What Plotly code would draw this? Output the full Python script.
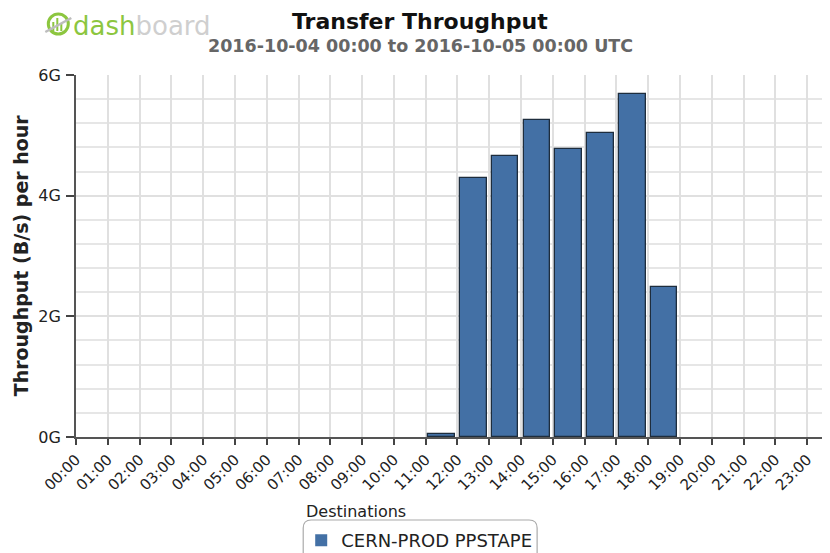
import plotly.graph_objects as go

hours = list(range(24))
hour_labels = [f"{h:02d}:00" for h in hours]
throughput_g = [0, 0, 0, 0, 0, 0, 0, 0, 0, 0, 0,
                0.05, 4.29, 4.66, 5.26, 4.78, 5.04, 5.69, 2.48,
                0, 0, 0, 0, 0]
y_tick_vals = [0, 2, 4, 6]
y_tick_text = ["0G", "2G", "4G", "6G"]
series_name = "CERN-PROD PPSTAPE"

OFF = 8  # browser body margin
W, H = 830, 553
L = 75.7 - OFF
T = 75 - OFF
B = H - (437 - OFF)
R = 0
pw = W - L - R
ph = H - T - B
hour_px = 31.8


def px_x(x):
    return (x - OFF - L) / pw


def px_y(y):
    return (H - B - (y - OFF)) / ph


font = "DejaVu Sans, Verdana, sans-serif"

fig = go.Figure()
fig.add_trace(go.Bar(
    x=[h + 0.5 for h in hours],
    y=throughput_g,
    width=0.84,
    name=series_name,
    marker=dict(color="#4370a5",
                line=dict(color="#1e2d3d", width=[1.3 if v > 0 else 0 for v in throughput_g])),
    showlegend=True,
))

fig.update_layout(
    width=W, height=H,
    margin=dict(l=L, r=R, t=T, b=B, autoexpand=False),
    paper_bgcolor="white", plot_bgcolor="white",
    font=dict(family=font, size=13, color="#222"),
    bargap=0,
    showlegend=True,
    legend=dict(
        x=px_x(301), y=px_y(522), xanchor="left", yanchor="top",
        font=dict(size=18, color="#222", family=font),
        bgcolor="rgba(0,0,0,0)", borderwidth=0,
        itemwidth=30,
    ),
    xaxis=dict(
        range=[0, pw / hour_px],
        tickmode="array", tickvals=hours, ticktext=hour_labels,
        tickangle=-45, ticks="outside", ticklen=6, tickwidth=1.5,
        tickcolor="#444",
        showgrid=True, gridcolor="#e0e0e0", gridwidth=2,
        showline=True, linecolor="#555", linewidth=2,
        zeroline=False,
        tickfont=dict(size=15, color="#222", family=font),
        fixedrange=True,
    ),
    yaxis=dict(
        range=[0, 6],
        tickmode="array", tickvals=y_tick_vals, ticktext=y_tick_text,
        ticks="outside", ticklen=8, tickwidth=1.5, tickcolor="#444",
        ticklabelstandoff=2,
        showgrid=True, gridcolor="#e0e0e0", gridwidth=1.5,
        minor=dict(dtick=0.4, showgrid=True, gridcolor="#e6e6e6", gridwidth=1.5),
        showline=True, linecolor="#555", linewidth=2,
        zeroline=False,
        tickfont=dict(size=16, color="#222", family=font),
        fixedrange=True,
    ),
)

annotations = [
    dict(text="<b>Transfer Throughput</b>", x=px_x(420), y=px_y(22),
         font=dict(size=22, color="#111", family=font)),
    dict(text="<b>2016-10-04 00:00 to 2016-10-05 00:00 UTC</b>", x=px_x(420), y=px_y(46),
         font=dict(size=17.5, color="#666", family=font)),
    dict(text="<span style='color:#8cc63f'>dash</span><span style='color:#cfcfcf'>board</span>",
         x=px_x(71), y=px_y(26), xanchor="left",
         font=dict(size=26, family="DejaVu Sans, sans-serif")),
    dict(text="Destinations", x=px_x(304), y=px_y(511), xanchor="left",
         font=dict(size=16, color="#222", family=font)),
    dict(text="<b>Throughput (B/s) per hour</b>", x=px_x(21), y=px_y(255),
         textangle=-90, font=dict(size=19, color="#222", family=font)),
]
for a in annotations:
    a.setdefault("xanchor", "center")
    a.update(xref="paper", yref="paper", showarrow=False, yanchor="middle")
fig.update_layout(annotations=annotations)

# rounded legend frame
x0, x1 = px_x(303), px_x(537)
y0, y1 = px_y(520), px_y(570)
rx = 8 / pw
ry = 8 / ph
path = (f"M {x0+rx},{y0} L {x1-rx},{y0} Q {x1},{y0} {x1},{y0-ry} "
        f"L {x1},{y1} L {x0},{y1} L {x0},{y0-ry} Q {x0},{y0} {x0+rx},{y0} Z")
fig.add_shape(type="path", path=path, xref="paper", yref="paper",
              line=dict(color="#aaaaaa", width=1.2), fillcolor="rgba(0,0,0,0)")

# logo icon
fig.add_shape(type="circle", xref="paper", yref="paper",
              x0=px_x(48), x1=px_x(68), y0=px_y(14), y1=px_y(34),
              line=dict(color="#8cc63f", width=3))
for bx, btop in [(53, 22), (57, 18), (61, 24)]:
    fig.add_shape(type="line", xref="paper", yref="paper",
                  x0=px_x(bx), x1=px_x(bx), y0=px_y(btop), y1=px_y(31),
                  line=dict(color="#8cc63f", width=2))
fig.add_shape(type="line", xref="paper", yref="paper",
              x0=px_x(45), x1=px_x(71), y0=px_y(32), y1=px_y(18),
              line=dict(color="#bdbdbd", width=2.5))

fig.write_html("out.html")
